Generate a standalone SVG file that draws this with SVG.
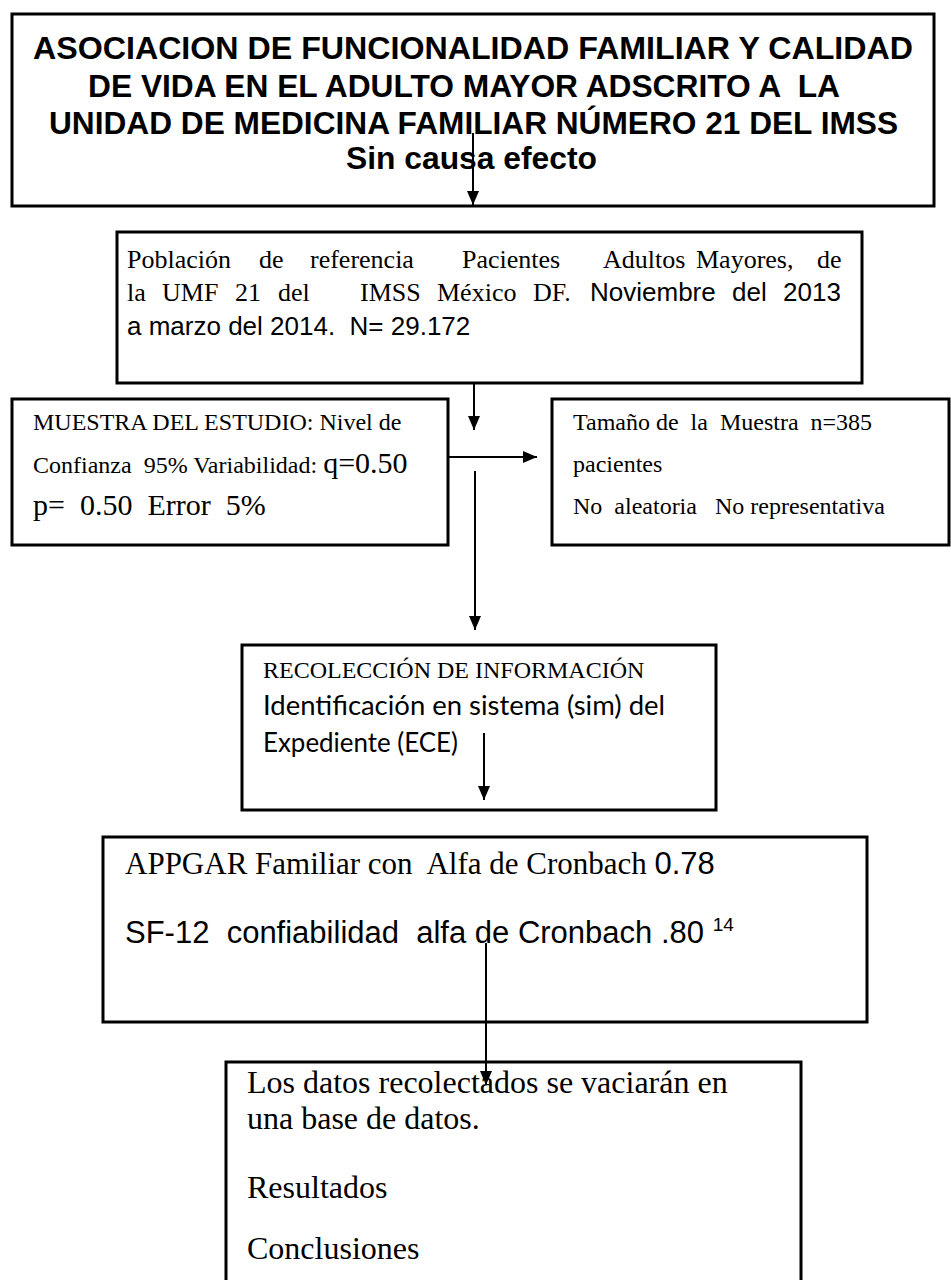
<svg xmlns="http://www.w3.org/2000/svg" width="951" height="1280" viewBox="0 0 951 1280">
<defs>
<marker id="ah" markerUnits="userSpaceOnUse" markerWidth="14" markerHeight="12" refX="14" refY="6" orient="auto">
<path d="M0,0 L14,6 L0,12 z" fill="#000"/>
</marker>
<style>
.box{fill:#fff;stroke:#000;stroke-width:3}
.conn{stroke:#000;stroke-width:2;fill:none;marker-end:url(#ah)}
.tb{font-family:"Liberation Sans",Arial,sans-serif;font-weight:bold;font-size:31px;fill:#000}
.tr{font-family:"Liberation Serif","Times New Roman",serif;fill:#000}
.ar{font-family:"Liberation Sans",Arial,sans-serif;fill:#000}
.ca{font-family:Lato,"Liberation Sans",sans-serif;fill:#000}
</style>
</defs>
<rect width="951" height="1280" fill="#fff"/>

<g id="titulo">
<rect class="box" x="12" y="14" width="922" height="192"/>
<text class="tb" x="33" y="59" textLength="880" lengthAdjust="spacingAndGlyphs">ASOCIACION DE FUNCIONALIDAD FAMILIAR Y CALIDAD</text>
<text class="tb" x="88" y="97" textLength="752" lengthAdjust="spacingAndGlyphs" xml:space="preserve">DE VIDA EN EL ADULTO MAYOR ADSCRITO A  LA</text>
<text class="tb" x="49" y="134" textLength="849" lengthAdjust="spacingAndGlyphs">UNIDAD DE MEDICINA FAMILIAR NÚMERO 21 DEL IMSS</text>
<text class="tb" x="346" y="169" textLength="251" lengthAdjust="spacingAndGlyphs">Sin causa efecto</text>
</g>

<g id="poblacion">
<rect class="box" x="117" y="232" width="745" height="151"/>
<text class="tr" font-size="26" y="268"><tspan x="127">Población</tspan><tspan x="259">de</tspan><tspan x="310">referencia</tspan><tspan x="462">Pacientes</tspan><tspan x="603">Adultos</tspan><tspan x="696">Mayores,</tspan><tspan x="817">de</tspan></text>
<text font-size="26" y="301"><tspan class="tr" x="127">la</tspan><tspan class="tr" x="162">UMF</tspan><tspan class="tr" x="235">21</tspan><tspan class="tr" x="278">del</tspan><tspan class="tr" x="360">IMSS</tspan><tspan class="tr" x="437">México</tspan><tspan class="tr" x="533">DF.</tspan><tspan class="ar" x="590">Noviembre</tspan><tspan class="ar" x="732">del</tspan><tspan class="ar" x="783">2013</tspan></text>
<text class="ar" font-size="26" x="127" y="335" xml:space="preserve">a marzo del 2014.  N= 29.172</text>
</g>

<g id="muestra">
<rect class="box" x="12" y="399" width="436" height="146"/>
<text class="tr" font-size="24" x="33" y="430">MUESTRA DEL ESTUDIO: Nivel de</text>
<text class="tr" font-size="24" x="33" y="473" xml:space="preserve">Confianza  95% Variabilidad: <tspan font-size="30">q=0.50</tspan></text>
<text class="tr" font-size="30" x="33" y="515" xml:space="preserve">p=  0.50  Error  5%</text>
</g>

<g id="tamano">
<rect class="box" x="552" y="399" width="397" height="146"/>
<text class="tr" font-size="24" x="573" y="430" xml:space="preserve">Tamaño de  la  Muestra  n=385</text>
<text class="tr" font-size="24" x="573" y="472">pacientes</text>
<text class="tr" font-size="24" x="573" y="514" xml:space="preserve">No  aleatoria   No representativa</text>
</g>

<g id="recoleccion">
<rect class="box" x="242" y="645" width="474" height="165"/>
<text class="tr" font-size="24" x="263" y="678">RECOLECCIÓN DE INFORMACIÓN</text>
<text class="ca" font-size="27" x="263" y="715" textLength="402" lengthAdjust="spacingAndGlyphs">Identificación en sistema (sim) del</text>
<text class="ca" font-size="27" x="263" y="752" textLength="195" lengthAdjust="spacingAndGlyphs">Expediente (ECE)</text>
</g>

<g id="instrumentos">
<rect class="box" x="103" y="837" width="764" height="185"/>
<text font-size="31" x="125" y="874" xml:space="preserve"><tspan class="tr">APPGAR Familiar con  Alfa de Cronbach </tspan><tspan class="ar">0.78</tspan></text>
<text class="ar" font-size="31" x="125" y="943" xml:space="preserve">SF-12  confiabilidad  alfa de Cronbach .80 <tspan font-size="19" dy="-12">14</tspan></text>
</g>

<g id="resultados">
<path class="box" d="M226,1290 L226,1062 L801,1062 L801,1290"/>
<text class="tr" font-size="32" x="247" y="1093">Los datos recolectados se vaciarán en</text>
<text class="tr" font-size="32" x="247" y="1129">una base de datos.</text>
<text class="tr" font-size="32" x="247" y="1198">Resultados</text>
<text class="tr" font-size="32" x="247" y="1259">Conclusiones</text>
</g>

<g id="conectores">
<line class="conn" x1="473" y1="133" x2="473" y2="205"/>
<line class="conn" x1="474" y1="383" x2="474" y2="430"/>
<line class="conn" x1="448" y1="457" x2="537" y2="457"/>
<line class="conn" x1="475" y1="471" x2="475" y2="630"/>
<line class="conn" x1="484" y1="733" x2="484" y2="800"/>
<line class="conn" x1="486" y1="943" x2="486" y2="1085"/>
</g>
</svg>
